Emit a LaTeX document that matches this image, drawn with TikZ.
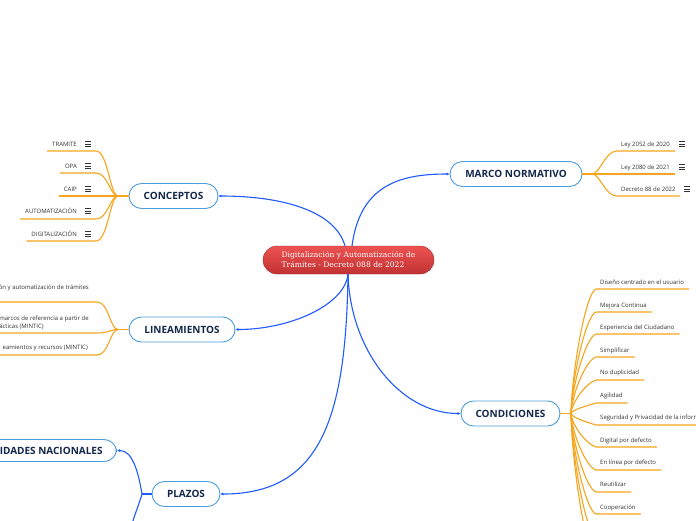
\documentclass[tikz,border=0pt]{standalone}
\usepackage{fontspec}
\setmainfont{Open Sans}
\newfontfamily\serifc{DejaVu Serif}
\newfontfamily\osans{Open Sans}
\usetikzlibrary{arrows.meta,calc}
\definecolor{blueline}{HTML}{1F5BFF}
\definecolor{orangeline}{HTML}{F7A51C}
\definecolor{topicborder}{HTML}{4D9EDF}
\definecolor{navy}{HTML}{13284A}
\definecolor{rootTop}{HTML}{EE5252}
\definecolor{rootBot}{HTML}{C03232}
\definecolor{leaftext}{HTML}{333333}
\tikzset{
 rootnode/.style={rounded corners=14pt, top color=rootTop, bottom color=rootBot, draw=rootBot!85!black, line width=0.4pt, minimum width=171pt, minimum height=28pt, text=white, font=\serifc\fontsize{7.6}{10}\selectfont, align=left, inner sep=0pt},
 topic/.style={draw=topicborder, fill=white, line width=0.9pt, rounded corners=12.5pt, minimum height=25pt, inner xsep=6pt, inner ysep=0pt, text=navy, font=\osans\bfseries\fontsize{10}{11}\selectfont},
 leaf/.style={text=leaftext, font=\osans\fontsize{6}{8}\selectfont, inner sep=0pt},
 bconn/.style={draw=blueline, line width=1.1pt, -{Latex[length=3pt,width=3pt]}},
 bline/.style={draw=blueline, line width=1.1pt},
 oconn/.style={draw=orangeline, line width=1.1pt},
 menuicon/.pic={\draw[line width=0.7pt, leaftext] (-3,-2.3) -- (3,-2.3) (-3,0) -- (3,0) (-3,2.3) -- (3,2.3);}
}
\begin{document}
\begin{tikzpicture}[x=1pt,y=-1pt]
\useasboundingbox (0,0) rectangle (696,520);
\clip (0,0) rectangle (696,520);
\fill[white] (0,0) rectangle (696,520);

% root and topics
\node[rootnode] (root) at (348.5,260) {Digitalización y Automatización de\\Trámites - Decreto 088 de 2022};
\node[topic, minimum width=89pt] (conceptos) at (173.5,196) {CONCEPTOS};
\node[topic, minimum width=106pt] (lineam) at (182,329.5) {LINEAMIENTOS};
\node[topic, minimum width=132pt] (marco) at (516,174) {MARCO NORMATIVO};
\node[topic, minimum width=99pt] (condic) at (510.5,413.5) {CONDICIONES};
\node[topic, minimum width=68pt] (plazos) at (186,494) {PLAZOS};
\node[topic, anchor=east, inner xsep=14pt, minimum height=22pt] (entid) at (117,450.5) {IDADES NACIONALES};

% main connectors
\coordinate (rt1) at (345,246);
\coordinate (rt2) at (352,246);
\coordinate (rb) at (348,274);
\draw[bconn] (rt1) .. controls (335,210) and (280,196) .. (conceptos.east);
\draw[bconn] (rt2) .. controls (360,185) and (400,174) .. (marco.west);
\draw[bconn] (rb) .. controls (345,305) and (290,329.5) .. (lineam.east);
\draw[bconn] (rb) .. controls (346,420) and (320,494) .. (plazos.east);
\draw[bconn] (rb) .. controls (350,350) and (400,413.5) .. (condic.west);

% plazos children
\coordinate (pb) at (142,494);
\coordinate (pd) at (129,535);
\draw[bline] (plazos.west) -- (pb);
\draw[bconn] (pb) .. controls (138,470) and (132,450.5) .. (entid.east);
\draw[bline] (pb) .. controls (139,505) and (134,515) .. (pd);

% conceptos children
\coordinate (cb) at (118,196);
\draw[oconn] (conceptos.west) -- (cb);
\foreach \i/\txt/\ty/\uy in {1/TRAMITE/144/151, 2/OPA/166/173, 3/CAIP/189/196, 4/AUTOMATIZACIÓN/211/219, 5/DIGITALIZACIÓN/234/241} {
  \node[leaf, anchor=base east] (ct\i) at (77,\ty+2) {\txt};
  \pic at (88,\ty) {menuicon};
  \coordinate (cu\i) at (96,\uy);
  \draw[oconn] (cb) .. controls +(-8,0) and +(12,0) .. (cu\i) -- (ct\i.west |- cu\i) -- ++(-5,0);
}

% lineamientos children
\coordinate (lb) at (118,329.5);
\draw[oconn] (lineam.west) -- (lb);
\node[leaf, anchor=base east] (lt1) at (89,289) {ón y automatización de trámites};
\node[leaf, anchor=base east] (lt2) at (89,320) {marcos de referencia a partir de};
\node[leaf, anchor=base west] (lt2b) at ([yshift=-8pt]lt2.base west) {ácticas (MINTIC)};
\node[leaf, anchor=base east] (lt3) at (88,349) {eamientos y recursos (MINTIC)};
\foreach \i/\uy in {1/302, 2/333, 3/355} {
  \coordinate (lu\i) at (97,\uy);
  \coordinate (ls\i) at (-5,\uy);
  \draw[oconn] (lb) .. controls +(-8,0) and +(12,0) .. (lu\i) -- (ls\i);
}

% marco children
\coordinate (mb) at (592,174);
\draw[oconn] (marco.east) -- (mb);
\foreach \i/\txt/\ty/\uy/\ix in {1/Ley 2052 de 2020/144/151/682, 2/Ley 2080 de 2021/167/174/682, 3/Decreto 88 de 2022/189/196/687} {
  \node[leaf, anchor=base west] (mt\i) at (621,\ty+2) {\txt};
  \pic at (\ix,\ty) {menuicon};
  \coordinate (mu\i) at (617,\uy);
  \coordinate (me\i) at (\ix-7,\uy);
  \draw[oconn] (mb) .. controls +(8,0) and +(-12,0) .. (mu\i) -- (me\i);
}

% condiciones children
\coordinate (kb) at (571,413.5);
\draw[oconn] (condic.east) -- (kb);
\foreach \i/\txt/\ty/\uy in {1/Diseño centrado en el usuario/282/289, 2/Mejora Continua/305/312, 3/Experiencia del Ciudadano/327/334, 4/Simplificar/350/357, 5/No duplicidad/372/380, 6/Agilidad/395/403, 7/Seguridad y Privacidad de la inform/417/425, 8/Digital por defecto/440/447, 9/En línea por defecto/462/470, 10/Reutilizar/484/492, 11/Cooperación/507/514} {
  \node[leaf, anchor=base west] (kt\i) at (600,\ty+2) {\txt};
  \coordinate (ku\i) at (596,\uy);
  \pgfmathsetmacro\ca{413.5+0.35*(\uy-413.5)}
  \pgfmathsetmacro\cbb{\uy+3*sign(413.5-\uy)}
  \draw[oconn] (kb) .. controls (572,\ca) and (586,\cbb) .. (ku\i) -- (kt\i.east |- ku\i) -- ++(5,0);
}
\foreach \i/\uy in {1/537, 2/559} {
  \coordinate (kx\i) at (596,\uy);
  \pgfmathsetmacro\ca{413.5+0.35*(\uy-413.5)}
  \pgfmathsetmacro\cbb{\uy-3}
  \draw[oconn] (kb) .. controls (572,\ca) and (586,\cbb) .. (kx\i);
}
\end{tikzpicture}
\end{document}
